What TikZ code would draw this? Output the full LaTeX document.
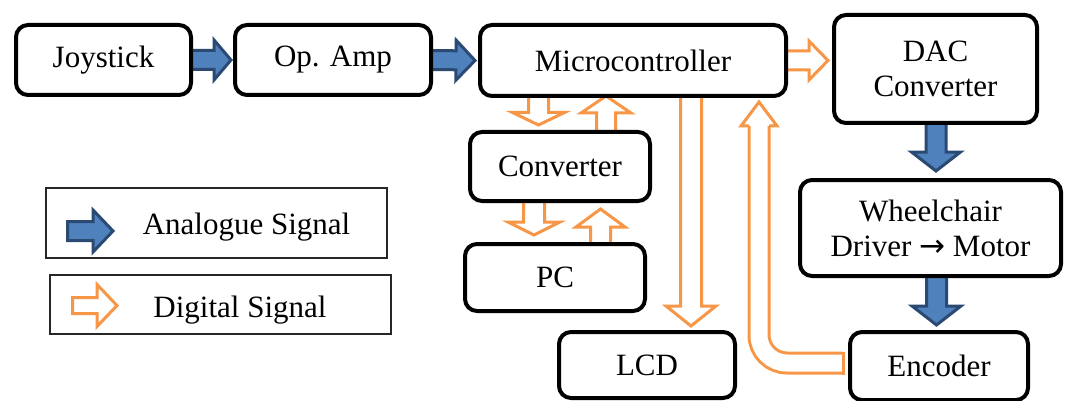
\documentclass[tikz,border=0pt]{standalone}
\usepackage{fontspec}
\setmainfont{Liberation Serif}
\newfontfamily\arrowfont{DejaVu Sans}
\usetikzlibrary{calc,backgrounds}
\definecolor{anafill}{HTML}{4F81BD}
\definecolor{anadraw}{HTML}{2A4A73}
\definecolor{digi}{HTML}{F79646}
% block arrow: style, start, tip, half shaft, half head, head length
\newcommand{\sigarrow}[6]{%
  \path (#2) coordinate (ba-s) (#3) coordinate (ba-t);
  \path ($(ba-t)!#6!(ba-s)$) coordinate (ba-h);
  \draw[#1] ($(ba-s)!#4!90:(ba-t)$) -- ($(ba-h)!#4!90:(ba-t)$) -- ($(ba-h)!#5!90:(ba-t)$)
    -- (ba-t) -- ($(ba-h)!#5!-90:(ba-t)$) -- ($(ba-h)!#4!-90:(ba-t)$) -- ($(ba-s)!#4!-90:(ba-t)$) -- cycle;}
\begin{document}
\begin{tikzpicture}[x=1pt,y=-1pt,
  box/.style={draw=black, line width=4pt, rounded corners=12pt, fill=white, outer sep=0pt,
    font=\fontsize{31}{35}\selectfont, align=center, inner sep=0pt},
  legbox/.style={draw=black!85, line width=1.5pt, inner sep=0pt},
  legtext/.style={font=\fontsize{31}{35}\selectfont, anchor=base, inner sep=0pt},
  ana/.style={fill=anafill, draw=anadraw, line width=3pt, line join=miter},
  dig/.style={fill=white, draw=digi, line width=3pt, line join=miter},
  digline/.style={draw=digi, line width=3pt, line join=miter},
  bentshaft/.style={draw=digi, line width=3pt, double=white, double distance=17pt, rounded corners=28pt},
]
\useasboundingbox (0,0) rectangle (1073,401);

\node[box, minimum width=175pt, minimum height=70pt] (joy) at (103.5,60) {Joystick};
\node[box, minimum width=196pt, minimum height=70pt] (amp) at (333,60) {Op. Amp};
\node[box, minimum width=306pt, minimum height=71pt] (micro) at (633,60.5) {Microcontroller};
\node[box, minimum width=203pt, minimum height=108pt] (dac) at (935.5,69) {DAC\\Converter};
\node[box, minimum width=261pt, minimum height=96pt] (wheel) at (930.5,228) {Wheelchair\\Driver {\arrowfont →} Motor};
\node[box, minimum width=178pt, minimum height=68pt] (enc) at (939,366) {Encoder};
\node[box, minimum width=176pt, minimum height=66pt] (lcd) at (647,365) {LCD};
\node[box, minimum width=180pt, minimum height=69pt] (conv) at (560,166.5) {Converter};
\node[box, minimum width=180pt, minimum height=67pt] (pc) at (555,277.5) {PC};

\begin{pgfonlayer}{background}
\sigarrow{ana}{joy.east}{$(amp.west)+(-4,0)$}{9.5pt}{20pt}{17pt}
\sigarrow{ana}{amp.east}{$(micro.west)+(-5,0)$}{9.5pt}{20pt}{19pt}
\sigarrow{dig}{micro.east}{$(micro.east -| dac.west)+(-6,0)$}{9.5pt}{19.5pt}{19pt}
\sigarrow{ana}{dac.south -| 936,0}{$(wheel.north -| 936,0)+(0,-9)$}{10pt}{24.5pt}{19pt}
\sigarrow{ana}{wheel.south -| 936.5,0}{$(enc.north -| 936.5,0)+(0,-7)$}{10pt}{24.5pt}{19pt}
\sigarrow{dig}{micro.south -| 538.5,0}{$(conv.north -| 538.5,0)+(0,-7)$}{10pt}{26pt}{12.5pt}
\sigarrow{dig}{conv.north -| 606,0}{micro.south -| 606,0}{9.5pt}{25pt}{17pt}
\sigarrow{dig}{conv.south -| 534,0}{$(pc.north -| 534,0)+(0,-9)$}{10.5pt}{26pt}{13pt}
\sigarrow{dig}{pc.north -| 600.5,0}{$(conv.south -| 600.5,0)+(0,8)$}{10pt}{24.5pt}{18pt}
\sigarrow{dig}{micro.south -| 691,0}{$(lcd.north -| 691,0)+(0,-6)$}{10.5pt}{25pt}{20pt}
% bent arrow from encoder up to microcontroller
\coordinate (bs) at ($(enc.west)+(-7,-3)$);
\coordinate (bt) at ($(micro.south -| 759,0)+(0,6)$);
\coordinate (bh) at ($(bt)+(0,24)$);
\draw[bentshaft] (bs) -- (bs -| bh) -- (bh);
\fill[white] ($(bh)+(-18,0)$) -- (bt) -- ($(bh)+(18,0)$) -- cycle;
\draw[digline] ($(bh)+(-10,0)$) -- ($(bh)+(-18,0)$) -- (bt) -- ($(bh)+(18,0)$) -- ($(bh)+(10,0)$);
\draw[digline] ($(bs)+(0,-11.5)$) -- ($(bs)+(0,11.5)$);
\end{pgfonlayer}

% legend
\node[legbox, minimum width=341pt, minimum height=70pt] (leg1) at (216.5,223) {};
\node[legbox, minimum width=341pt, minimum height=59pt] (leg2) at (220.5,304.5) {};
\node[legtext] (legA) at (246.5,234) {Analogue Signal};
\node[legtext] (legD) at (240,317) {Digital Signal};
\coordinate (la1) at (67.5,231);
\coordinate (la2) at (113,231);
\coordinate (ld1) at (72.5,305.5);
\coordinate (ld2) at (117,305.5);
\sigarrow{ana}{la1}{la2}{9.5pt}{21pt}{20pt}
\sigarrow{dig}{ld1}{ld2}{8pt}{21pt}{20pt}
\end{tikzpicture}
\end{document}
